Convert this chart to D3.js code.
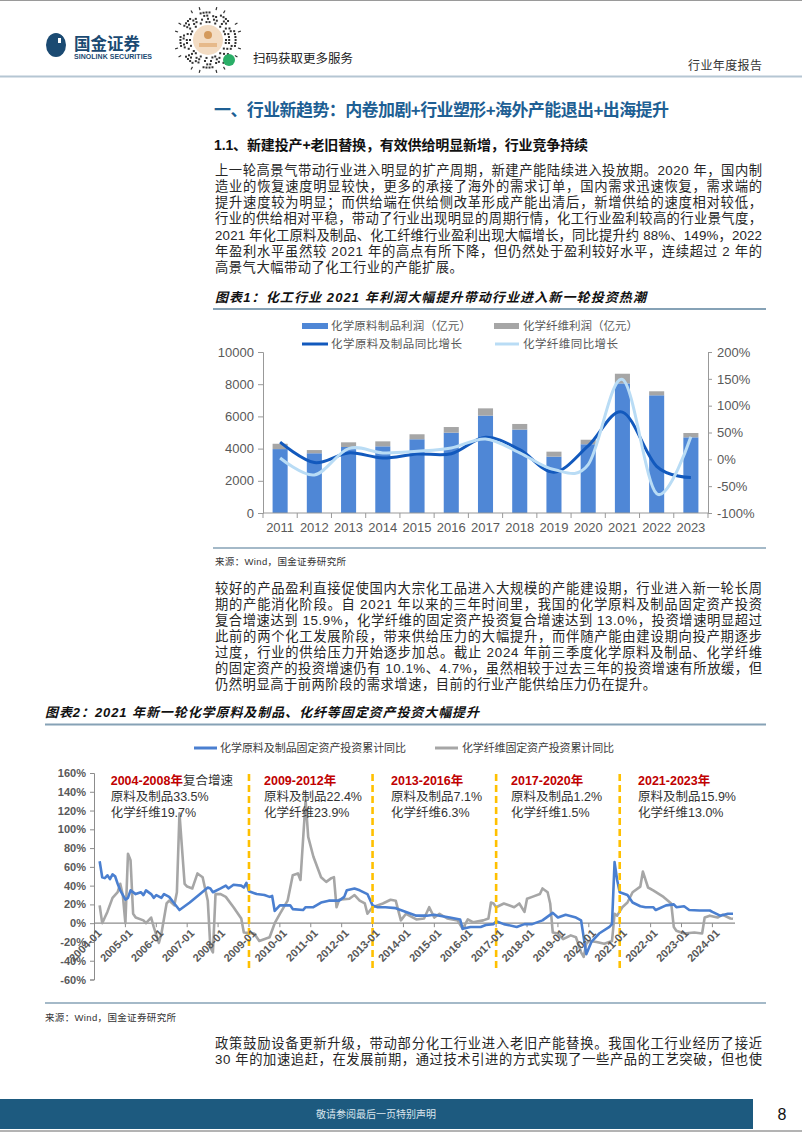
<!DOCTYPE html>
<html><head><meta charset="utf-8">
<script src="https://cdn.jsdelivr.net/npm/d3@7"></script>
<style>
body{margin:0;background:#fff}
svg{display:block}
text{font-family:"Liberation Sans","Noto Sans CJK SC",sans-serif}
.num{font-family:"Liberation Sans",Arial,sans-serif}
</style>
</head><body>
<svg id="page" width="802" height="1133"></svg>
<script>
// ---------- Chart 1 data ----------
const years = ["2011","2012","2013","2014","2015","2016","2017","2018","2019","2020","2021","2022","2023"];
const chemProfit  = [3970,3710,4100,4140,4580,4990,6050,5180,3500,4270,8050,7310,4700];
const fiberProfit = [330,200,290,310,310,350,450,350,310,280,600,250,270];
const chemGrowth  = [32,-6,12,2.5,10,10.5,41,18,-24,25,88,-13,-34];
const fiberGrowth = [2.5,-29,20,12,15,21,38,12,-19,-10,149,-64,42];
const leftTicks  = [0,2000,4000,6000,8000,10000];
const rightTicks = [-100,-50,0,50,100,150,200];

// ---------- Chart 2 data ----------
const chemMonths = ["2004-03","2004-04","2004-05","2004-06","2004-07","2004-08","2004-09","2004-10","2004-11","2005-01","2005-02","2005-03","2005-05","2005-07","2005-08","2005-09","2005-11","2005-12","2006-01","2006-03","2006-04","2006-06","2006-08","2006-10","2007-02","2007-06","2007-09","2007-10","2007-11","2008-02","2008-04","2008-05","2008-07","2008-10","2008-11","2008-12","2009-01","2009-04","2009-07","2009-09","2009-10","2009-11","2010-01","2010-05","2010-06","2010-10","2010-11","2011-02","2011-05","2011-08","2011-12","2012-02","2012-03","2012-06","2012-08","2012-11","2013-01","2013-03","2013-06","2013-10","2014-02","2014-06","2014-10","2015-01","2015-03","2015-07","2015-11","2015-12","2016-03","2016-07","2016-09","2016-12","2017-01","2017-04","2017-09","2017-12","2018-03","2018-07","2018-11","2019-01","2019-04","2019-08","2019-10","2019-12","2020-02","2020-05","2020-09","2020-10","2020-11","2020-12","2021-01","2021-04","2021-06","2021-09","2021-11","2022-02","2022-03","2022-07","2022-10","2022-11","2023-02","2023-04","2023-08","2023-12","2024-01","2024-04","2024-07","2024-09"];
const chemValues = [66,49,48,51,47,52,50,42,35,25,27,35,31,33,30,35,31,27,30,27,31,28,21,14,22,31,38,37,33,37,40,37,41,40,38,43,34,31,30,28,29,13,19,19,15,14,17,17,22,24,24,28,35,37,35,31,19,17,17,16,12,8,8,9,8,6,4,-6,-4,-4,-2,-1,2,-1,-4,-1,-1,3,11,6,9,6,3,-33,-20,-11,-4,-1,65,46,33,30,22,18,17,17,14,19,20,17,18,14,13.5,13.5,12,8,10,10.1];

const fiberMonths = ["2004-03","2004-04","2004-05","2004-06","2004-08","2004-10","2004-11","2004-12","2005-01","2005-02","2005-03","2005-04","2005-05","2005-08","2005-09","2005-11","2005-12","2006-02","2006-03","2006-05","2006-06","2006-08","2006-09","2006-10","2006-12","2007-01","2007-03","2007-05","2007-07","2007-09","2007-10","2007-11","2007-12","2008-02","2008-04","2008-07","2008-10","2008-11","2009-03","2009-05","2009-09","2009-11","2010-01","2010-04","2010-06","2010-08","2010-09","2010-11","2010-12","2011-02","2011-05","2011-07","2011-09","2011-10","2011-11","2011-12","2012-04","2012-06","2012-08","2012-10","2012-11","2013-01","2013-05","2013-08","2013-10","2013-12","2014-02","2014-06","2014-09","2014-11","2015-01","2015-03","2015-06","2015-10","2015-12","2016-02","2016-04","2016-08","2016-10","2016-11","2016-12","2017-01","2017-04","2017-08","2017-10","2017-12","2018-01","2018-03","2018-06","2018-07","2018-09","2018-10","2018-11","2019-01","2019-03","2019-06","2019-08","2019-10","2019-11","2019-12","2020-01","2020-04","2020-07","2020-10","2020-11","2020-12","2021-02","2021-04","2021-06","2021-09","2021-10","2021-12","2022-02","2022-06","2022-09","2022-10","2022-11","2023-02","2023-06","2023-09","2023-10","2023-12","2024-03","2024-05","2024-08","2024-09"];
const fiberValues = [19,0,6,12,27,33,42,30,0,74,67,10,6,3,0,6,-4,-21,-11,21,24,19,33,117,42,39,37,53,49,24,-26,-31,31,31,28,17,5,-10,-11,-19,-15,0,10,24,51,53,46,131,92,71,49,44,48,49,17,25,26,30,24,21,10,17,21,25,24,3,10,4,5,17,6,10,5,3,-6,4,1,3,5,22,21,17,21,17,21,12,26,28,31,37,33,21,-10,-11,-17,-13,-15,-31,-36,-22,-19,-20,-22,-19,10,8,17,22,33,39,55,38,35,28,21,-4,-8,-11,-10,-11,6,8,6,9,5,4.7];

const axis2Ticks = [-60,-40,-20,0,20,40,60,80,100,120,140,160];
const axis2Labels = ["2004-01","2005-01","2006-01","2007-01","2008-01","2009-01","2010-01","2011-01","2012-01","2013-01","2014-01","2015-01","2016-01","2017-01","2018-01","2019-01","2020-01","2021-01","2022-01","2023-01","2024-01"];
const phaseStarts = ["2009-01","2013-01","2017-01","2021-01"];
const phaseTitles = ["2004-2008年","2009-2012年","2013-2016年","2017-2020年","2021-2023年"];
const phaseChem = ["原料及制品33.5%","原料及制品22.4%","原料及制品7.1%","原料及制品1.2%","原料及制品15.9%"];
const phaseFiber = ["化学纤维19.7%","化学纤维23.9%","化学纤维6.3%","化学纤维1.5%","化学纤维13.0%"];

// ---------- Text ----------
const para1 = [
"上一轮高景气带动行业进入明显的扩产周期，新建产能陆续进入投放期。2020 年，国内制",
"造业的恢复速度明显较快，更多的承接了海外的需求订单，国内需求迅速恢复，需求端的",
"提升速度较为明显；而供给端在供给侧改革形成产能出清后，新增供给的速度相对较低，",
"行业的供给相对平稳，带动了行业出现明显的周期行情，化工行业盈利较高的行业景气度，",
"2021 年化工原料及制品、化工纤维行业盈利出现大幅增长，同比提升约 88%、149%，2022",
"年盈利水平虽然较 2021 年的高点有所下降，但仍然处于盈利较好水平，连续超过 2 年的",
"高景气大幅带动了化工行业的产能扩展。"];
const para2 = [
"较好的产品盈利直接促使国内大宗化工品进入大规模的产能建设期，行业进入新一轮长周",
"期的产能消化阶段。自 2021 年以来的三年时间里，我国的化学原料及制品固定资产投资",
"复合增速达到 15.9%，化学纤维的固定资产投资复合增速达到 13.0%，投资增速明显超过",
"此前的两个化工发展阶段，带来供给压力的大幅提升，而伴随产能由建设期向投产期逐步",
"过度，行业的供给压力开始逐步加总。截止 2024 年前三季度化学原料及制品、化学纤维",
"的固定资产的投资增速仍有 10.1%、4.7%，虽然相较于过去三年的投资增速有所放缓，但",
"仍然明显高于前两阶段的需求增速，目前的行业产能供给压力仍在提升。"];
const para3 = [
"政策鼓励设备更新升级，带动部分化工行业进入老旧产能替换。我国化工行业经历了接近",
"30 年的加速追赶，在发展前期，通过技术引进的方式实现了一些产品的工艺突破，但也使"];

const svg = d3.select("#page");

// ---------- Header ----------
svg.append("line").attr("x1",0).attr("x2",802).attr("y1",0.5).attr("y2",0.5).attr("stroke","#9a9a9a");
const logo = svg.append("g");
logo.append("ellipse").attr("cx",56).attr("cy",45).attr("rx",10).attr("ry",12).attr("fill","#1b4a72");
logo.append("path").attr("d","M58,31 L68,31 L68,41 Z").attr("fill","#fff");
logo.append("rect").attr("x",58).attr("y",38).attr("width",3).attr("height",5).attr("fill","#fff");
logo.append("text").attr("x",74).attr("y",50).attr("font-size",16.5).attr("font-weight","bold").attr("fill","#1b4a72").text("国金证券");
logo.append("text").attr("class","num").attr("x",74).attr("y",59).attr("font-size",7).attr("font-weight","bold").attr("fill","#1b4a72").attr("textLength",78).text("SINOLINK SECURITIES");

// decorative QR-like badge
const qr = svg.append("g").attr("transform","translate(208,40)");
for (let k=0;k<5;k++){
  const r = 18 + k*3.2;
  const n = Math.round(2*Math.PI*r/3);
  for (let j=0;j<n;j++){
    if (((j*31 + k*17 + j*k) % 7) < 4){
      const a = j/n*2*Math.PI;
      qr.append("rect").attr("x",Math.cos(a)*r-1).attr("y",Math.sin(a)*r-1).attr("width",2).attr("height",2)
        .attr("fill","#333");
    }
  }
}
for (let j=0;j<24;j++){
  if ((j*5)%3!==0){
    const a=j/24*2*Math.PI;
    qr.append("line").attr("x1",Math.cos(a)*31).attr("y1",Math.sin(a)*31).attr("x2",Math.cos(a)*34).attr("y2",Math.sin(a)*34)
      .attr("stroke","#333").attr("stroke-width",1.2);
  }
}
qr.append("circle").attr("r",15).attr("fill","#f3dcc3");
qr.append("circle").attr("r",4).attr("cy",-5).attr("fill","#d49a5c");
qr.append("rect").attr("x",-9).attr("y",3).attr("width",18).attr("height",4).attr("fill","#e6b98a");
svg.append("circle").attr("cx",229).attr("cy",60).attr("r",6).attr("fill","#2aae67");
svg.append("text").attr("x",253).attr("y",59).attr("dominant-baseline","central").attr("font-size",12.5).attr("fill","#222").text("扫码获取更多服务");
svg.append("text").attr("x",688).attr("y",66).attr("dominant-baseline","central").attr("font-size",12).attr("fill","#333").attr("textLength",74).text("行业年度报告");
svg.append("line").attr("x1",0).attr("x2",802).attr("y1",76.5).attr("y2",76.5).attr("stroke","#b5c6d3").attr("stroke-width",2);

// ---------- Headings ----------
svg.append("text").attr("x",214).attr("y",110).attr("dominant-baseline","central").attr("font-size",17).attr("font-weight","bold")
  .attr("fill","#1e5f94").attr("textLength",455).text("一、行业新趋势：内卷加剧+行业塑形+海外产能退出+出海提升");
svg.append("text").attr("x",214).attr("y",145).attr("dominant-baseline","central").attr("font-size",14).attr("font-weight","bold")
  .attr("fill","#111").attr("textLength",374).text("1.1、新建投产+老旧替换，有效供给明显新增，行业竞争持续");

function paragraph(lines, x, y0, dy){
  lines.forEach((t,i)=>{
    const tx = svg.append("text").attr("x",x).attr("y",y0+i*dy).attr("dominant-baseline","central")
      .attr("font-size",13.3).attr("fill","#262626").text(t);
    if (i<lines.length-1 || lines.length===2) tx.attr("textLength",547).attr("lengthAdjust","spacing");
    else tx.attr("letter-spacing",0.5);
  });
}
paragraph(para1,215,170,16.3);
paragraph(para2,215,588,16);
paragraph(para3,215,1043,16.3);

// ---------- Chart 1 ----------
svg.append("text").attr("x",215).attr("y",297).attr("dominant-baseline","central").attr("font-size",13).attr("font-weight","bold")
  .attr("font-style","italic").attr("fill","#111").attr("textLength",431).text("图表1：化工行业 2021 年利润大幅提升带动行业进入新一轮投资热潮");
svg.append("line").attr("x1",213).attr("x2",766).attr("y1",309).attr("y2",309).attr("stroke","#86a2b6").attr("stroke-width",2);

const c1 = svg.append("g");
const x1 = d3.scaleBand().domain(years).range([263,708]).paddingInner(0.56).paddingOuter(0.28);
const yL = d3.scaleLinear().domain([0,10000]).range([513,352]);
const yR = d3.scaleLinear().domain([-100,200]).range([513,352]);
const cBlue="#4f87d6", cGray="#a6a6a6", cDark="#1259bd", cLight="#b9dcf5";

c1.selectAll(".b1").data(years).join("rect")
  .attr("x",d=>x1(d)).attr("width",x1.bandwidth())
  .attr("y",(d,i)=>yL(chemProfit[i])).attr("height",(d,i)=>yL(0)-yL(chemProfit[i])).attr("fill",cBlue);
c1.selectAll(".b2").data(years).join("rect")
  .attr("x",d=>x1(d)).attr("width",x1.bandwidth())
  .attr("y",(d,i)=>yL(chemProfit[i]+fiberProfit[i])).attr("height",(d,i)=>yL(chemProfit[i])-yL(chemProfit[i]+fiberProfit[i])).attr("fill",cGray);

const line1 = d3.line().x((d,i)=>x1(years[i])+x1.bandwidth()/2).y(d=>yR(d)).curve(d3.curveCardinal.tension(0));
c1.append("path").attr("d",line1(chemGrowth)).attr("fill","none").attr("stroke",cDark).attr("stroke-width",3);
c1.append("path").attr("d",line1(fiberGrowth)).attr("fill","none").attr("stroke",cLight).attr("stroke-width",3);

const axL = c1.append("g").attr("transform","translate(263,0)")
  .call(d3.axisLeft(yL).tickValues(leftTicks).tickSize(5).tickPadding(4).tickFormat(d3.format("d")));
const axR = c1.append("g").attr("transform","translate(708,0)")
  .call(d3.axisRight(yR).tickValues(rightTicks).tickSize(4).tickPadding(5).tickFormat(d=>d+"%"));
const axB = c1.append("g").attr("transform","translate(0,513)")
  .call(d3.axisBottom(x1).tickSize(0).tickPadding(10));
axB.select(".domain").attr("d","M263,0H708");
axB.selectAll(".bt").data(d3.range(years.length+1)).join("line")
  .attr("x1",i=>263+i*x1.step()).attr("x2",i=>263+i*x1.step()).attr("y1",0).attr("y2",5).attr("stroke","#999");
[axL,axR,axB].forEach(a=>{
  a.selectAll(".domain").attr("stroke","#999");
  a.selectAll(".tick line").attr("stroke","#999");
  a.selectAll("text").attr("class","num").attr("font-size",13).attr("fill","#595959");
});

// legend 1
const lg1 = svg.append("g").attr("font-size",11.5).attr("fill","#595959");
lg1.append("rect").attr("x",302).attr("y",323).attr("width",26).attr("height",6).attr("fill",cBlue);
lg1.append("text").attr("x",331).attr("y",326).attr("dominant-baseline","central").attr("textLength",140).text("化学原料制品利润（亿元）");
lg1.append("rect").attr("x",494).attr("y",323).attr("width",25).attr("height",6).attr("fill",cGray);
lg1.append("text").attr("x",523).attr("y",326).attr("dominant-baseline","central").attr("textLength",115).text("化学纤维利润（亿元）");
lg1.append("line").attr("x1",302).attr("x2",328).attr("y1",344).attr("y2",344).attr("stroke",cDark).attr("stroke-width",3);
lg1.append("text").attr("x",331).attr("y",344).attr("dominant-baseline","central").attr("textLength",131).text("化学原料及制品同比增长");
lg1.append("line").attr("x1",495).attr("x2",519).attr("y1",344).attr("y2",344).attr("stroke",cLight).attr("stroke-width",3);
lg1.append("text").attr("x",523).attr("y",344).attr("dominant-baseline","central").attr("textLength",95).text("化学纤维同比增长");

svg.append("line").attr("x1",213).attr("x2",766).attr("y1",548).attr("y2",548).attr("stroke","#86a2b6").attr("stroke-width",1.3);
svg.append("text").attr("x",215).attr("y",561).attr("dominant-baseline","central").attr("font-size",9.5).attr("fill","#333").attr("textLength",131).text("来源：Wind，国金证券研究所");

// ---------- Chart 2 ----------
svg.append("text").attr("x",45).attr("y",712.5).attr("dominant-baseline","central").attr("font-size",13).attr("font-weight","bold")
  .attr("font-style","italic").attr("fill","#111").attr("textLength",434).text("图表2：2021 年新一轮化学原料及制品、化纤等固定资产投资大幅提升");
svg.append("line").attr("x1",45).attr("x2",766).attr("y1",724.5).attr("y2",724.5).attr("stroke","#86a2b6").attr("stroke-width",2);

const mIdx = s => (+s.slice(0,4)-2004)*12 + (+s.slice(5,7)-1);
const x2 = d3.scaleLinear().domain([0,248]).range([94.5,733]);
const y2 = d3.scaleLinear().domain([-60,160]).range([979.5,773]);
const c2 = svg.append("g");

const ax2 = c2.append("g").attr("transform","translate(94,0)")
  .call(d3.axisLeft(y2).tickValues(axis2Ticks).tickSize(4).tickPadding(4).tickFormat(d=>d+"%"));
ax2.selectAll(".domain,.tick line").attr("stroke","#8c8c8c");
ax2.selectAll("text").attr("class","num").attr("font-size",11).attr("font-weight","bold").attr("fill","#595959");

// zero baseline with year ticks
c2.append("line").attr("x1",94).attr("x2",735).attr("y1",y2(0)).attr("y2",y2(0)).attr("stroke","#8c8c8c").attr("stroke-width",1.2);
c2.selectAll(".yt").data(axis2Labels).join("line")
  .attr("x1",d=>x2(mIdx(d))).attr("x2",d=>x2(mIdx(d))).attr("y1",y2(0)).attr("y2",y2(0)+4).attr("stroke","#8c8c8c");

const line2 = d3.line().x(d=>x2(mIdx(d[0]))).y(d=>y2(d[1]));
c2.append("path").attr("d",line2(fiberMonths.map((m,i)=>[m,fiberValues[i]]))).attr("fill","none").attr("stroke","#a6a6a6").attr("stroke-width",2.6).attr("stroke-linejoin","round");
c2.append("path").attr("d",line2(chemMonths.map((m,i)=>[m,chemValues[i]]))).attr("fill","none").attr("stroke","#4a7fd0").attr("stroke-width",2.6).attr("stroke-linejoin","round");

// phase dividers
c2.selectAll(".ph").data(phaseStarts).join("line")
  .attr("x1",d=>x2(mIdx(d))).attr("x2",d=>x2(mIdx(d))).attr("y1",774).attr("y2",970)
  .attr("stroke","#ffc000").attr("stroke-width",2.6).attr("stroke-dasharray","7,4");

// rotated x labels
c2.selectAll(".xl").data(axis2Labels).join("text")
  .attr("class","num").attr("font-size",11).attr("font-weight","bold").attr("fill","#595959")
  .attr("text-anchor","end").attr("dominant-baseline","central")
  .attr("transform",d=>`translate(${x2(mIdx(d))+5},${y2(0)+8}) rotate(-45)`).text(d=>d);

// phase annotations
const annX = [110.7,264,391,511,638];
phaseTitles.forEach((t,i)=>{
  const tt = c2.append("text").attr("x",annX[i]).attr("y",781).attr("dominant-baseline","central").attr("font-size",12.5);
  tt.append("tspan").attr("font-weight","bold").attr("fill","#c00000").text(t);
  if (i===0) tt.append("tspan").attr("fill","#333").text("复合增速");
  c2.append("text").attr("x",annX[i]).attr("y",797).attr("dominant-baseline","central").attr("font-size",12.5).attr("fill","#333").text(phaseChem[i]);
  c2.append("text").attr("x",annX[i]).attr("y",813).attr("dominant-baseline","central").attr("font-size",12.5).attr("fill","#333").text(phaseFiber[i]);
});

// legend 2
const lg2 = svg.append("g").attr("font-size",11).attr("fill","#404040");
lg2.append("line").attr("x1",194).attr("x2",217).attr("y1",748).attr("y2",748).attr("stroke","#4a7fd0").attr("stroke-width",3);
lg2.append("text").attr("x",220).attr("y",748).attr("dominant-baseline","central").attr("textLength",186).text("化学原料及制品固定资产投资累计同比");
lg2.append("line").attr("x1",435).attr("x2",458).attr("y1",748).attr("y2",748).attr("stroke","#a6a6a6").attr("stroke-width",3);
lg2.append("text").attr("x",462).attr("y",748).attr("dominant-baseline","central").attr("textLength",152).text("化学纤维固定资产投资累计同比");

svg.append("line").attr("x1",45).attr("x2",766).attr("y1",1003).attr("y2",1003).attr("stroke","#86a2b6").attr("stroke-width",1.3);
svg.append("text").attr("x",45).attr("y",1017).attr("dominant-baseline","central").attr("font-size",9.5).attr("fill","#333").attr("textLength",131).text("来源：Wind，国金证券研究所");

// ---------- Footer ----------
svg.append("rect").attr("x",0).attr("y",1099).attr("width",753).attr("height",30).attr("fill","#1d5a7f");
svg.append("text").attr("x",376).attr("y",1114).attr("text-anchor","middle").attr("dominant-baseline","central").attr("font-size",10).attr("fill","#dbe6ee").text("敬请参阅最后一页特别声明");
svg.append("text").attr("class","num").attr("x",782).attr("y",1114).attr("text-anchor","middle").attr("dominant-baseline","central").attr("font-size",16).attr("fill","#111").text("8");
svg.append("line").attr("x1",0).attr("x2",802).attr("y1",1131).attr("y2",1131).attr("stroke","#9a9a9a").attr("stroke-width",1.5);
</script>
</body></html>
